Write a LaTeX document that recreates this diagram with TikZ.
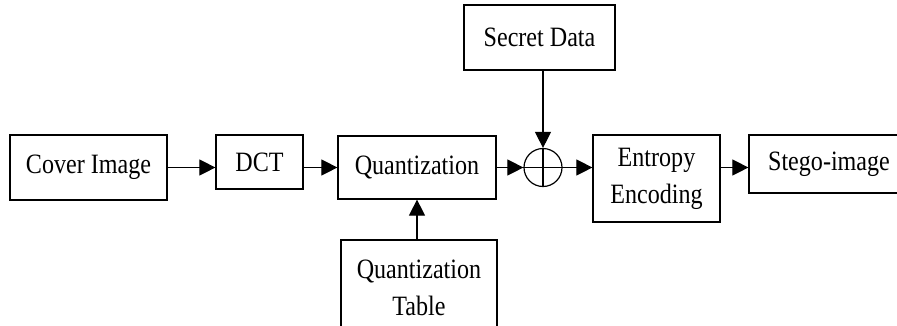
\documentclass[tikz,border=0pt]{standalone}
\usepackage{fontspec}
\setmainfont{Liberation Serif}[FakeStretch=0.86]
\usetikzlibrary{arrows.meta}

\begin{document}
\begin{tikzpicture}[x=1pt,y=1pt,yscale=-1,
  blk/.style={draw,line width=1.2pt,inner sep=0pt,align=center,font=\fontsize{28}{37}\selectfont},
  flow/.style={-{Triangle[length=16pt,width=16pt]},line width=1.1pt}]
\useasboundingbox (0,0) rectangle (897,325);
\clip (0,0) rectangle (897,325);

%Blocks
\node[blk,minimum width=157,minimum height=65] (cover) at (88.5,167.5) {Cover Image};
\node[blk,minimum width=87,minimum height=54] (dct) at (259.5,162) {DCT};
\node[blk,minimum width=158,minimum height=63] (quant) at (417,167.5) {Quantization};
\node[blk,minimum width=151,minimum height=65] (secret) at (539.5,37.5) {Secret Data};
\node[blk,minimum width=156,minimum height=95] (qtable) at (419,287.5) {Quantization\\Table};
\node[blk,minimum width=127,minimum height=87] (entropy) at (656.5,178.5) {Entropy\\Encoding};
\node[blk,minimum width=160,minimum height=58] (stego) at (829,164) {Stego-image};

%Adder
\node[draw,circle,minimum size=38,inner sep=0pt,line width=1.2pt] (sum) at (543,167.5) {};
\draw[line width=1.1pt] (sum.north) -- (sum.south) (sum.west) -- (sum.east);

%Connectors
\draw[flow] (cover.east) -- (dct.west |- cover.east);
\draw[flow] (dct.east |- quant.west) -- (quant.west);
\draw[flow] (quant.east) -- (sum.west);
\draw[flow] (secret.south -| sum) -- (sum.north);
\draw[flow] (qtable.north -| quant.south) -- (quant.south);
\draw[flow] (sum.east) -- (entropy.west |- sum.east);
\draw[flow] (entropy.east |- sum.east) -- (stego.west |- sum.east);

\end{tikzpicture}
\end{document}
